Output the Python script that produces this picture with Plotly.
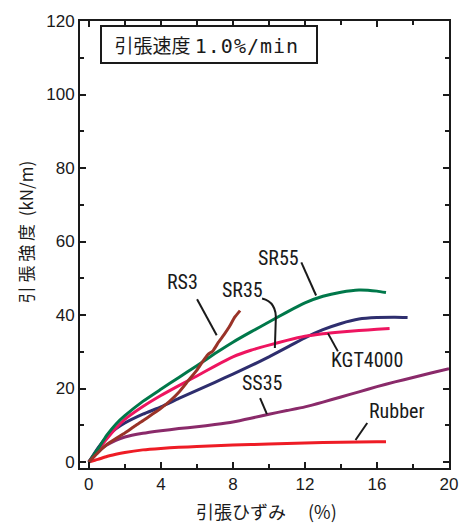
import plotly.graph_objects as go

# Tensile strain (%) vs tensile strength (kN/m) for each material
sr55_x = [0, 0.5, 1, 1.5, 2, 3, 4, 5, 6, 7, 8, 9, 10, 11, 12, 13, 14, 15, 16, 16.5]
sr55_y = [0, 3.5, 7.3, 10.3, 12.6, 16.5, 19.8, 23, 26.2, 29.5, 32.6, 35.4, 38.1, 40.8, 43.3, 45.1, 46.2, 46.8, 46.5, 46.1]

kgt_x = [0, 0.5, 1, 1.5, 2, 3, 4, 5, 6, 7, 8, 9, 10, 11, 12, 13, 14, 15, 16, 16.7]
kgt_y = [0, 3.2, 6.3, 9.2, 11.6, 15.1, 18.1, 20.8, 23.4, 26.1, 28.6, 30.4, 31.8, 33.1, 34.2, 34.9, 35.4, 35.8, 36.1, 36.3]

sr35_x = [0, 0.5, 1, 1.5, 2, 3, 4, 5, 6, 7, 8, 9, 10, 11, 12, 13, 14, 15, 16, 17, 17.7]
sr35_y = [0, 3.8, 6.8, 9.0, 10.6, 13.0, 15.0, 17.3, 19.5, 21.7, 23.9, 26.2, 28.6, 31.2, 33.8, 36.0, 37.7, 38.9, 39.3, 39.4, 39.3]

rs3_x = [0, 0.5, 1, 1.5, 2, 2.5, 3, 3.5, 4, 4.5, 5, 5.5, 6, 6.3, 6.6, 6.9, 7.2, 7.5, 7.8, 8.1, 8.4]
rs3_y = [0, 2.5, 4.8, 6.4, 7.9, 9.6, 11.2, 12.9, 14.6, 16.6, 19.0, 22.0, 25.0, 27.2, 29.2, 30.3, 32.6, 34.6, 36.8, 39.4, 41.2]

ss35_x = [0, 0.5, 1, 1.5, 2, 3, 4, 5, 6, 7, 8, 9, 10, 11, 12, 13, 14, 15, 16, 17, 18, 19, 20]
ss35_y = [0, 2.8, 4.6, 5.9, 6.8, 7.8, 8.5, 9.1, 9.6, 10.2, 10.9, 11.9, 13.0, 14.0, 15.0, 16.3, 17.7, 19.1, 20.5, 21.8, 23.0, 24.2, 25.4]

rubber_x = [0, 0.5, 1, 1.5, 2, 3, 4, 5, 6, 8, 10, 12, 14, 16, 16.5]
rubber_y = [0, 0.7, 1.5, 2.1, 2.6, 3.3, 3.7, 4.0, 4.2, 4.6, 4.9, 5.2, 5.4, 5.5, 5.5]

x_ticks = [0, 4, 8, 12, 16, 20]
y_ticks = [0, 20, 40, 60, 80, 100, 120]

series = [
    ("SS35", ss35_x, ss35_y, "#8a2a6a"),
    ("Rubber", rubber_x, rubber_y, "#ee1c25"),
    ("SR35", sr35_x, sr35_y, "#2e2e6e"),
    ("KGT4000", kgt_x, kgt_y, "#ee1560"),
    ("SR55", sr55_x, sr55_y, "#00784a"),
    ("RS3", rs3_x, rs3_y, "#9a3328"),
]

fig = go.Figure()
for name, xs, ys, col in series:
    fig.add_trace(go.Scatter(x=xs, y=ys, mode="lines", name=name,
                             line=dict(color=col, width=3, shape="spline", smoothing=0.5)))

label_font = dict(family="Liberation Sans Narrow, Roboto Condensed, Liberation Sans, Arial",
                  size=20, color="#1a1a1a")

# curve labels
labels = [
    ("SR55", 10.55, 55.4),
    ("SR35", 8.52, 46.7),
    ("RS3", 5.19, 48.9),
    ("KGT4000", 15.46, 27.7),
    ("SS35", 9.67, 21.4),
    ("Rubber", 17.1, 13.8),
]
annotations = [dict(x=x, y=y, xref="x", yref="y", text=t, showarrow=False,
                    xanchor="center", yanchor="middle", font=label_font)
               for t, x, y in labels]

# leader lines from labels to curves
leaders = [
    (11.80, 54.3, 12.62, 45.3),
    (6.01, 44.3, 7.10, 34.5),
    (13.28, 35.0, 13.83, 30.1),
    (9.51, 17.4, 9.89, 13.0),
    (15.46, 10.6, 14.81, 6.0),
]
shapes = [dict(type="line", xref="x", yref="y", x0=a, y0=b, x1=c, y1=d,
               line=dict(color="#1a1a1a", width=2)) for a, b, c, d in leaders]
shapes.append(dict(type="path", xref="x", yref="y",
                   path="M 9.62,44.5 Q 10.45,43.5 10.38,38.5 L 10.33,31.0",
                   line=dict(color="#1a1a1a", width=2)))

# test condition box
annotations.append(dict(
    x=0.6, y=113.6, xref="x", yref="y", xanchor="left", yanchor="middle",
    text=("&nbsp;&nbsp;引張速度&nbsp;<span style=\"font-family:'DejaVu Sans Mono';"
          "font-size:20px;letter-spacing:1px\">1.0%/min</span>&nbsp;&nbsp;&nbsp;"),
    showarrow=False, bordercolor="#1a1a1a", borderwidth=2, borderpad=4,
    font=dict(family="Noto Sans CJK JP", size=19, color="#1a1a1a"),
    bgcolor="white"))

W, H = 470, 527
ml, mr, mt, mb = 80, 15, 20, 59
pw, ph = W - ml - mr, H - mt - mb

# axis titles, placed by pixel position
def to_paper(px, py):
    return (px - ml) / pw, 1 - (py - mt) / ph

yx, yy = to_paper(25, 231)
annotations.append(dict(
    x=yx, y=yy, xref="paper", yref="paper", showarrow=False,
    xanchor="center", yanchor="middle",
    text="引 張 強 度  (kN/m)", textangle=-90,
    font=dict(family="Noto Sans CJK JP", size=17, color="#1a1a1a")))
tx, ty = to_paper(270, 511)
annotations.append(dict(
    x=tx, y=ty, xref="paper", yref="paper", showarrow=False,
    xanchor="center", yanchor="middle",
    text="引張ひずみ　 (%)",
    font=dict(family="Noto Sans CJK JP", size=18, color="#1a1a1a")))

axis_common = dict(showline=True, linecolor="#1a1a1a", linewidth=2, mirror="ticks",
                   ticks="inside", ticklen=6, tickwidth=1.5, tickcolor="#1a1a1a",
                   showgrid=False, zeroline=False,
                   tickfont=dict(family="Liberation Sans, Arial", size=17, color="#1a1a1a"))

fig.update_layout(
    width=W, height=H, margin=dict(l=ml, r=mr, t=mt, b=mb),
    plot_bgcolor="white", paper_bgcolor="white", showlegend=False,
    annotations=annotations, shapes=shapes,
    xaxis=dict(range=[-0.49, 20], tickvals=x_ticks, ticktext=[str(v) for v in x_ticks],
               minor=dict(dtick=2, tick0=0, ticks="inside", ticklen=4, tickcolor="#1a1a1a"),
               **axis_common),
    yaxis=dict(range=[-1.63, 120], tickvals=y_ticks, ticktext=[str(v) for v in y_ticks],
               minor=dict(dtick=10, tick0=0, ticks="inside", ticklen=4, tickcolor="#1a1a1a"),
               **axis_common),
)

fig.write_html("out.html")
